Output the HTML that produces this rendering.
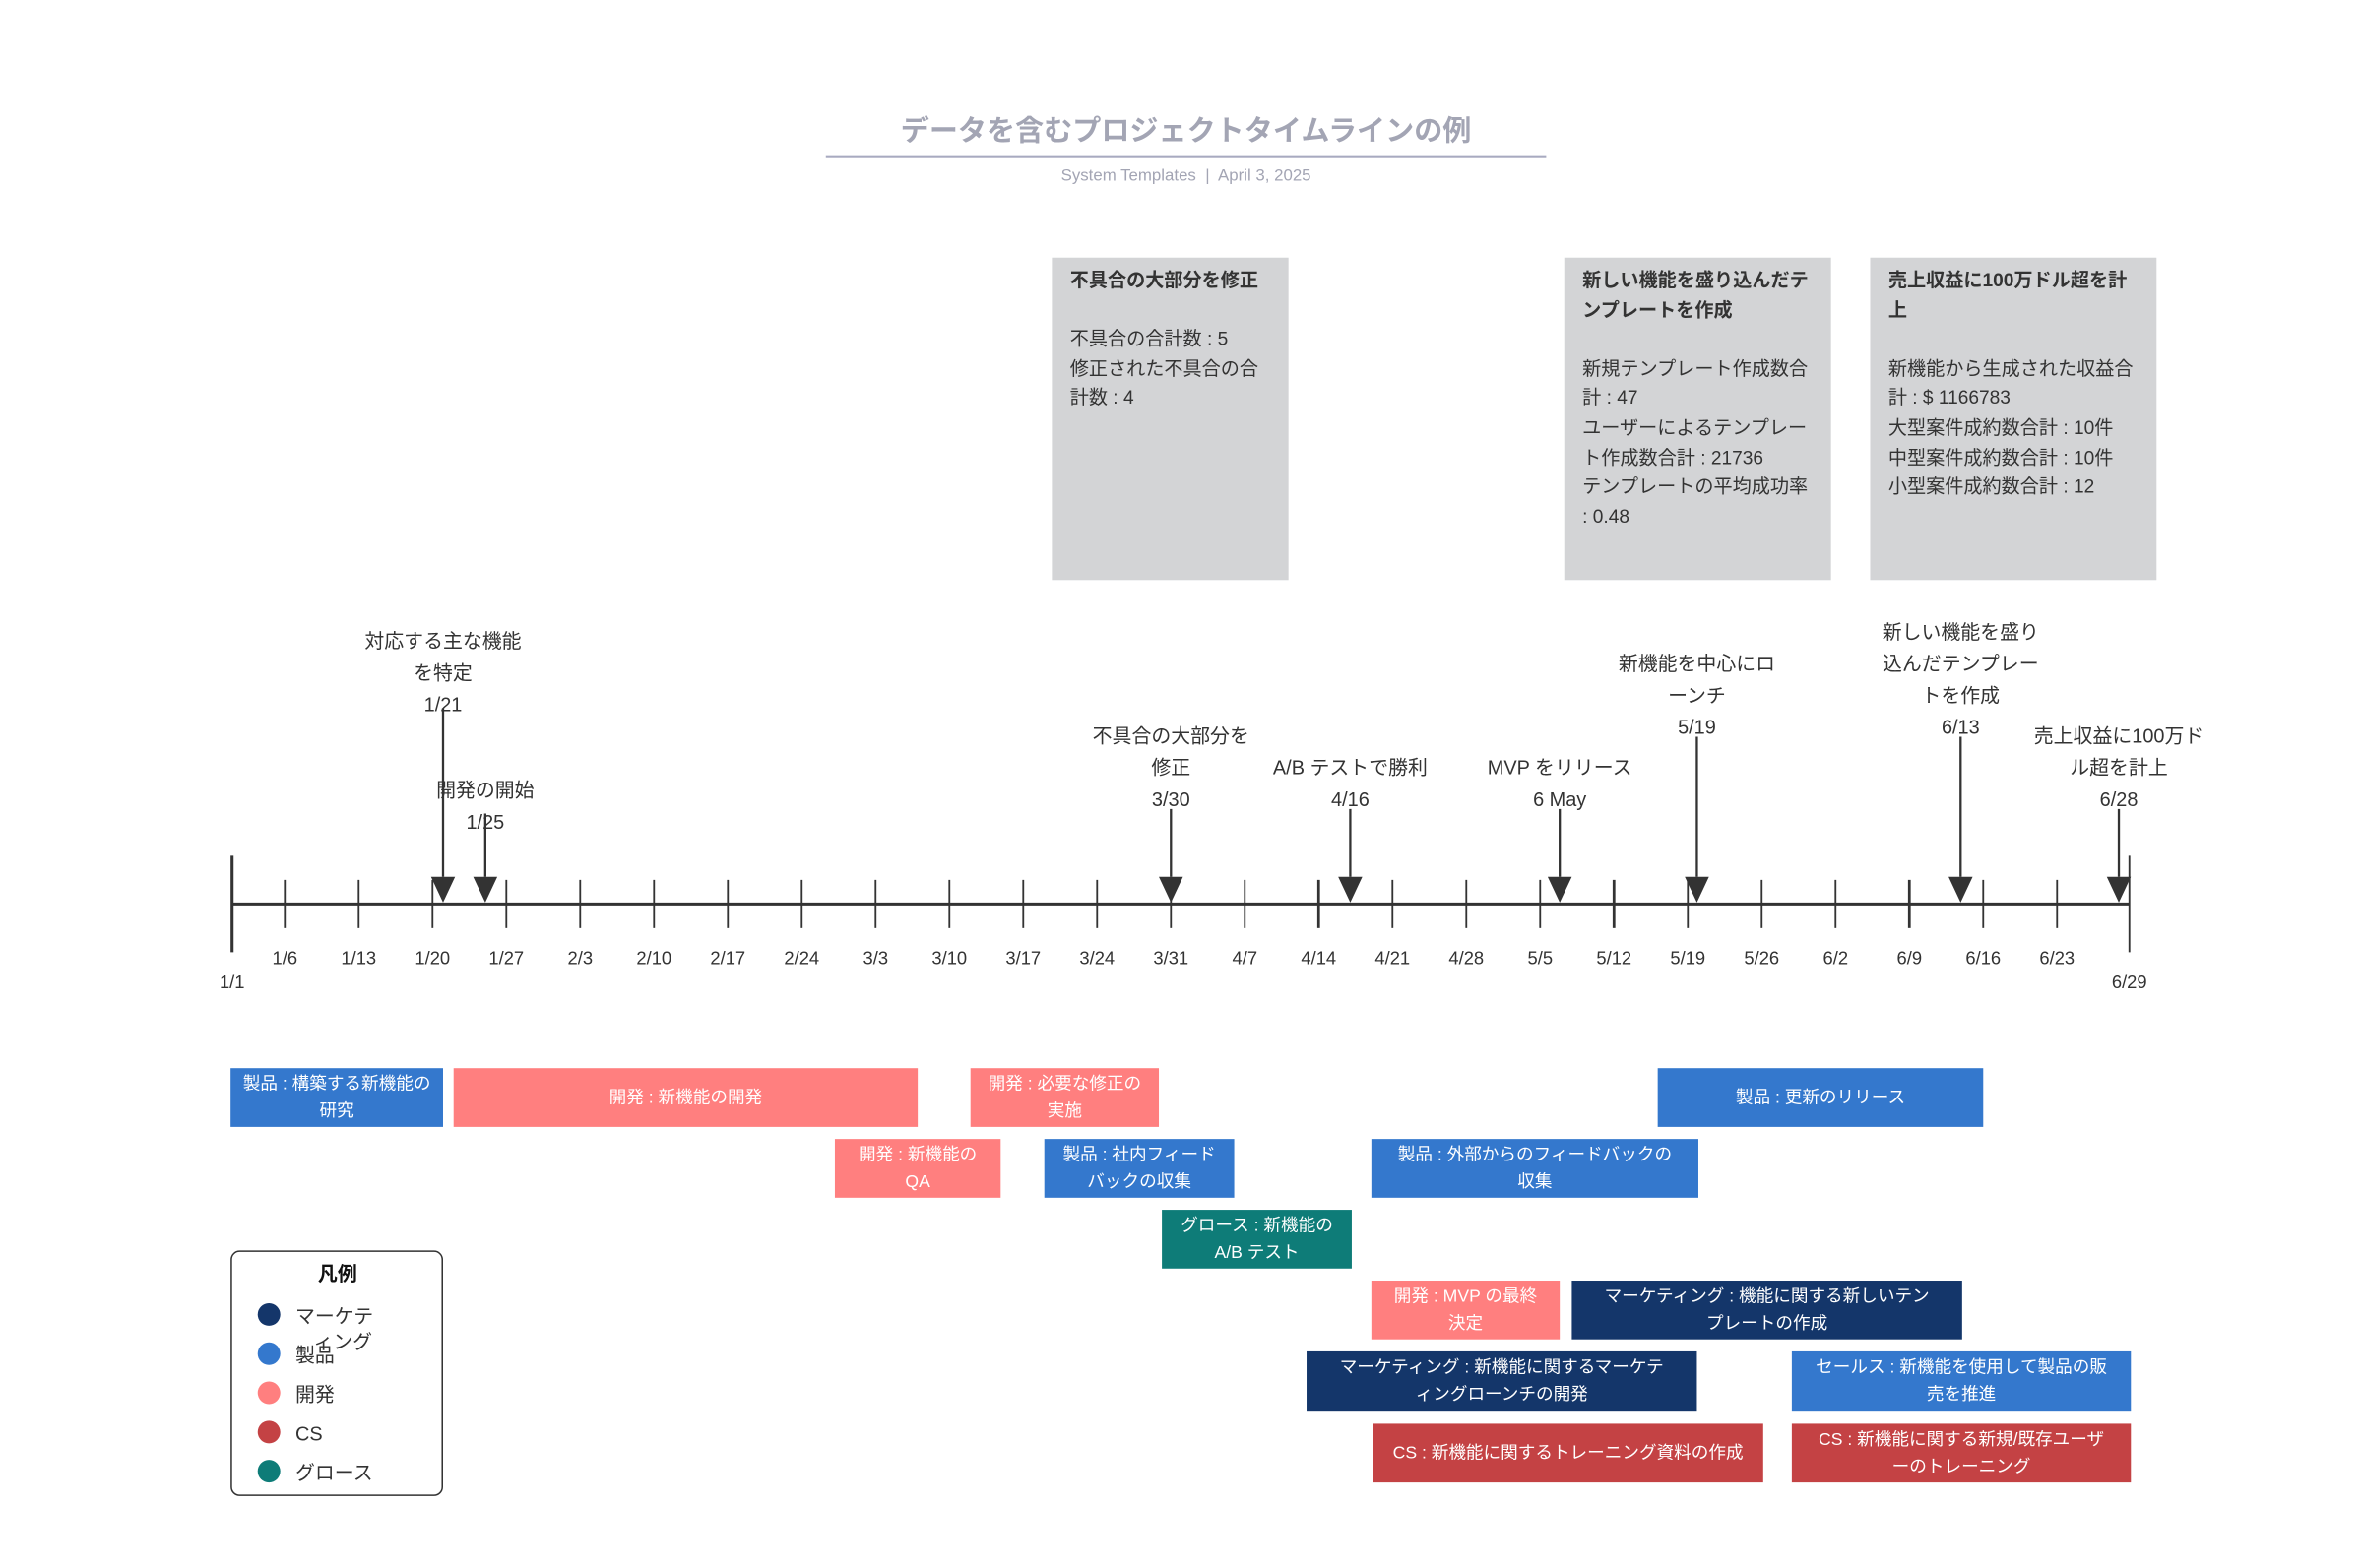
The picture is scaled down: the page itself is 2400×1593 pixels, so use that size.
<!DOCTYPE html>
<html><head><meta charset="utf-8"><style>
html,body{margin:0;padding:0;background:#fff;}
body{width:2400px;height:1593px;overflow:hidden;position:relative;font-family:"Liberation Sans","Noto Sans CJK JP",sans-serif;}
#w{position:absolute;left:0;top:0;width:1568px;height:1041px;transform:scale(1.5306);transform-origin:0 0;}
.a{position:absolute;}
.lbl{position:absolute;font-size:13px;line-height:21px;color:#333;text-align:center;width:140px;margin-left:-70px;}
.tk{position:absolute;font-size:12px;color:#333;text-align:center;width:50px;margin-left:-25px;line-height:16px;}
.gb{position:absolute;background:#d3d4d6;color:#333;font-size:12.5px;line-height:19.6px;padding:6px 12px;box-sizing:border-box;}
.gb b{display:block;margin-bottom:19.6px;}
.bar{position:absolute;color:#fff;font-size:11.5px;line-height:18px;display:flex;align-items:center;justify-content:center;text-align:center;box-sizing:border-box;padding:0 6px;}
.B{background:#3478cd}.P{background:#ff7f7f}.N{background:#14366a}.R{background:#c44244}.T{background:#0e7c78}
.dot{position:absolute;width:15px;height:15px;border-radius:50%;margin:-7.5px 0 0 -7.5px;}
.lt{position:absolute;font-size:13px;color:#333;line-height:16px;}
</style></head><body><div id="w">
<div class="a" style="left:548px;top:76px;width:478px;text-align:center;font-size:19px;font-weight:bold;color:#a3a5b4;line-height:24px;">データを含むプロジェクトタイムラインの例</div>
<div class="a" style="left:548px;top:103px;width:478px;height:1.5px;background:#a8aac0;"></div>
<div class="a" style="left:548px;top:110px;width:478px;text-align:center;font-size:11px;color:#a3a5b4;line-height:14px;">System Templates &nbsp;|&nbsp; April 3, 2025</div>

<div class="gb" style="left:698px;top:171px;width:157px;height:214px;"><b>不具合の大部分を修正</b>不具合の合計数 : 5<br>修正された不具合の合計数 : 4</div>
<div class="gb" style="left:1038px;top:171px;width:177px;height:214px;"><b>新しい機能を盛り込んだテンプレートを作成</b>新規テンプレート作成数合計 : 47<br>ユーザーによるテンプレート作成数合計 : 21736<br>テンプレートの平均成功率 : 0.48</div>
<div class="gb" style="left:1241px;top:171px;width:190px;height:214px;"><b>売上収益に100万ドル超を計上</b>新機能から生成された収益合計 : $ 1166783<br>大型案件成約数合計 : 10件<br>中型案件成約数合計 : 10件<br>小型案件成約数合計 : 12</div>

<svg class="a" style="left:0;top:0" width="1568" height="1041">
<g stroke="#333" fill="none">
<line x1="154" y1="600" x2="1413" y2="600" stroke-width="2"/>
<line x1="154" y1="568" x2="154" y2="632" stroke-width="2"/>
<line x1="1413" y1="568" x2="1413" y2="632" stroke-width="1.2"/>
<g stroke-width="1.2">
<line x1="189" y1="584" x2="189" y2="616"/><line x1="238" y1="584" x2="238" y2="616"/><line x1="287" y1="584" x2="287" y2="616"/><line x1="336" y1="584" x2="336" y2="616"/><line x1="385" y1="584" x2="385" y2="616"/><line x1="434" y1="584" x2="434" y2="616"/><line x1="483" y1="584" x2="483" y2="616"/><line x1="532" y1="584" x2="532" y2="616"/><line x1="581" y1="584" x2="581" y2="616"/><line x1="630" y1="584" x2="630" y2="616"/><line x1="679" y1="584" x2="679" y2="616"/><line x1="728" y1="584" x2="728" y2="616"/><line x1="777" y1="584" x2="777" y2="616"/><line x1="826" y1="584" x2="826" y2="616"/><line x1="924" y1="584" x2="924" y2="616"/><line x1="973" y1="584" x2="973" y2="616"/><line x1="1022" y1="584" x2="1022" y2="616"/><line x1="1120" y1="584" x2="1120" y2="616"/><line x1="1169" y1="584" x2="1169" y2="616"/><line x1="1218" y1="584" x2="1218" y2="616"/><line x1="1316" y1="584" x2="1316" y2="616"/><line x1="1365" y1="584" x2="1365" y2="616"/>
</g>
<g stroke-width="1.8"><line x1="875" y1="584" x2="875" y2="616"/><line x1="1071" y1="584" x2="1071" y2="616"/><line x1="1267" y1="584" x2="1267" y2="616"/></g>
<g stroke-width="1.5">
<line x1="294" y1="470" x2="294" y2="582"/><line x1="322" y1="540" x2="322" y2="582"/><line x1="777" y1="537" x2="777" y2="582"/><line x1="896" y1="537" x2="896" y2="582"/><line x1="1035" y1="537" x2="1035" y2="582"/><line x1="1126" y1="489" x2="1126" y2="582"/><line x1="1301" y1="489" x2="1301" y2="582"/><line x1="1406" y1="537" x2="1406" y2="582"/>
</g></g>
<g fill="#333">
<polygon points="286,582 302,582 294,599"/><polygon points="314,582 330,582 322,599"/><polygon points="769,582 785,582 777,599"/><polygon points="888,582 904,582 896,599"/><polygon points="1027,582 1043,582 1035,599"/><polygon points="1118,582 1134,582 1126,599"/><polygon points="1293,582 1309,582 1301,599"/><polygon points="1398,582 1414,582 1406,599"/>
</g>
</svg>

<div class="tk" style="left:154px;top:644px;">1/1</div>
<div class="tk" style="left:189px;top:628px;">1/6</div><div class="tk" style="left:238px;top:628px;">1/13</div><div class="tk" style="left:287px;top:628px;">1/20</div><div class="tk" style="left:336px;top:628px;">1/27</div><div class="tk" style="left:385px;top:628px;">2/3</div><div class="tk" style="left:434px;top:628px;">2/10</div><div class="tk" style="left:483px;top:628px;">2/17</div><div class="tk" style="left:532px;top:628px;">2/24</div><div class="tk" style="left:581px;top:628px;">3/3</div><div class="tk" style="left:630px;top:628px;">3/10</div><div class="tk" style="left:679px;top:628px;">3/17</div><div class="tk" style="left:728px;top:628px;">3/24</div><div class="tk" style="left:777px;top:628px;">3/31</div><div class="tk" style="left:826px;top:628px;">4/7</div><div class="tk" style="left:875px;top:628px;">4/14</div><div class="tk" style="left:924px;top:628px;">4/21</div><div class="tk" style="left:973px;top:628px;">4/28</div><div class="tk" style="left:1022px;top:628px;">5/5</div><div class="tk" style="left:1071px;top:628px;">5/12</div><div class="tk" style="left:1120px;top:628px;">5/19</div><div class="tk" style="left:1169px;top:628px;">5/26</div><div class="tk" style="left:1218px;top:628px;">6/2</div><div class="tk" style="left:1267px;top:628px;">6/9</div><div class="tk" style="left:1316px;top:628px;">6/16</div><div class="tk" style="left:1365px;top:628px;">6/23</div>
<div class="tk" style="left:1413px;top:644px;">6/29</div>

<div class="lbl" style="left:294px;top:415px;">対応する主な機能<br>を特定<br>1/21</div>
<div class="lbl" style="left:322px;top:514px;">開発の開始<br>1/25</div>
<div class="lbl" style="left:777px;top:478px;">不具合の大部分を<br>修正<br>3/30</div>
<div class="lbl" style="left:896px;top:499px;">A/B テストで勝利<br>4/16</div>
<div class="lbl" style="left:1035px;top:499px;">MVP をリリース<br>6 May</div>
<div class="lbl" style="left:1126px;top:430px;">新機能を中心にロ<br>ーンチ<br>5/19</div>
<div class="lbl" style="left:1301px;top:409px;">新しい機能を盛り<br>込んだテンプレー<br>トを作成<br>6/13</div>
<div class="lbl" style="left:1406px;top:478px;">売上収益に100万ド<br>ル超を計上<br>6/28</div>

<div class="bar B" style="left:153px;top:709px;width:141px;height:39px;">製品 : 構築する新機能の研究</div>
<div class="bar P" style="left:301px;top:709px;width:308px;height:39px;">開発 : 新機能の開発</div>
<div class="bar P" style="left:644px;top:709px;width:125px;height:39px;">開発 : 必要な修正の実施</div>
<div class="bar B" style="left:1100px;top:709px;width:216px;height:39px;">製品 : 更新のリリース</div>
<div class="bar P" style="left:554px;top:756px;width:110px;height:39px;">開発 : 新機能の<br>QA</div>
<div class="bar B" style="left:693px;top:756px;width:126px;height:39px;">製品 : 社内フィード<br>バックの収集</div>
<div class="bar B" style="left:910px;top:756px;width:217px;height:39px;">製品 : 外部からのフィードバックの<br>収集</div>
<div class="bar T" style="left:771px;top:803px;width:126px;height:39px;">グロース : 新機能の<br>A/B テスト</div>
<div class="bar P" style="left:910px;top:850px;width:125px;height:39px;">開発 : MVP の最終<br>決定</div>
<div class="bar N" style="left:1043px;top:850px;width:259px;height:39px;">マーケティング : 機能に関する新しいテン<br>プレートの作成</div>
<div class="bar N" style="left:867px;top:897px;width:259px;height:40px;">マーケティング : 新機能に関するマーケテ<br>ィングローンチの開発</div>
<div class="bar B" style="left:1189px;top:897px;width:225px;height:40px;">セールス : 新機能を使用して製品の販<br>売を推進</div>
<div class="bar R" style="left:911px;top:945px;width:259px;height:39px;">CS : 新機能に関するトレーニング資料の作成</div>
<div class="bar R" style="left:1189px;top:945px;width:225px;height:39px;">CS : 新機能に関する新規/既存ユーザ<br>ーのトレーニング</div>

<div class="a" style="left:153px;top:830px;width:141px;height:163px;border:1px solid #333;border-radius:6px;box-sizing:border-box;"></div>
<div class="a" style="left:154px;top:837px;width:140px;text-align:center;font-size:13px;font-weight:bold;color:#111;line-height:18px;">凡例</div>
<div class="dot" style="left:178px;top:872px;background:#14366a"></div>
<div class="dot" style="left:178px;top:898px;background:#3478cd"></div>
<div class="dot" style="left:178px;top:924px;background:#ff7f7f"></div>
<div class="dot" style="left:178px;top:950px;background:#c44244"></div>
<div class="dot" style="left:178px;top:976px;background:#0e7c78"></div>
<div class="lt" style="left:196px;top:866px;">マーケテ</div>
<div class="lt" style="left:208px;top:883px;">ィング</div>
<div class="lt" style="left:196px;top:892px;">製品</div>
<div class="lt" style="left:196px;top:918px;">開発</div>
<div class="lt" style="left:196px;top:944px;">CS</div>
<div class="lt" style="left:196px;top:970px;">グロース</div>
</div></body></html>
